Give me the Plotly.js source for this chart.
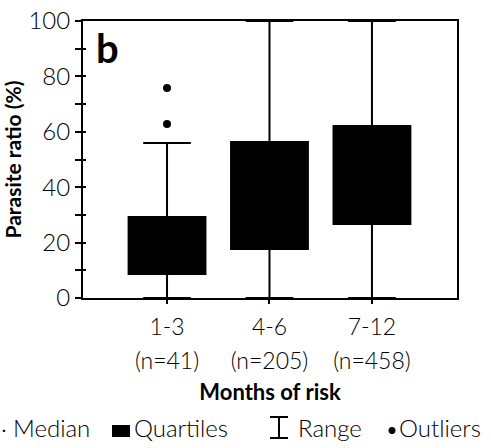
<!DOCTYPE html>
<html>
<head>
<meta charset="utf-8">
<script src="https://cdn.plot.ly/plotly-3.0.1.min.js"></script>
<style>html,body{margin:0;padding:0;background:#fff;}#chart{width:491px;height:448px;}</style>
</head>
<body>
<div id="chart"></div>
<script>
// ---- data ----
var categories = ["1-3", "4-6", "7-12"];
var tickLine1 = ["1-3", "4-6", "7-12"];
var tickLine2 = ["(n=41)", "(n=205)", "(n=458)"];
var q1 = [8.7, 17.7, 26.7];
var medians = [16, 32, 42];
var q3 = [29.2, 56.3, 62.1];
var lowerFence = [0, 0, 0];
var upperFence = [56, 100, 100];
var outlierCat = ["1-3", "1-3"];
var outlierVal = [75.8, 62.8];
var yTickVals = [0, 10, 20, 30, 40, 50, 60, 70, 80, 90, 100];
var yTickText = ["0", "", "20", "", "40", "", "60", "", "80", "", "100"];

var FONT = "Lato, 'Open Sans', sans-serif";
var W = 491, L = 83, R = 34, T = 21, B = 150, PH = 277;
var pw = W - L - R;
function px(x) { return (x - L) / pw; }
function py(y) { return (T + PH - y) / PH; }

var tickText = tickLine1.map(function (a, i) {
  return "<span style='font-size:23px'>" + a + "</span><br><span style='font-size:23px'>" + tickLine2[i] + "</span>";
});

var traces = [
  {
    type: "box",
    x: categories,
    q1: q1, median: medians, q3: q3,
    lowerfence: lowerFence, upperfence: upperFence,
    width: 0.75,
    whiskerwidth: 0.62,
    fillcolor: "#000",
    line: {color: "#000", width: 2},
    boxpoints: false,
    hoverinfo: "skip",
    showlegend: false
  },
  {
    type: "scatter",
    mode: "markers",
    x: outlierCat,
    y: outlierVal,
    marker: {color: "#000", size: 8},
    showlegend: false,
    hoverinfo: "skip"
  },
  {
    type: "scatter", x: [], y: [], yaxis: "y2", showlegend: false
  }
];

var legFont = {family: FONT, size: 24, color: "#000", weight: 300};

var layout = {
  width: 491, height: 448,
  margin: {l: L, r: R, t: T, b: B},
  paper_bgcolor: "#fff", plot_bgcolor: "#fff",
  showlegend: false,
  font: {family: FONT, color: "#000", size: 24},
  xaxis: {
    type: "category",
    categoryorder: "array", categoryarray: categories,
    range: [-0.82, 2.83],
    tickvals: categories, ticktext: tickText,
    ticks: "outside", ticklen: 4, tickwidth: 2, tickcolor: "#000",
    tickfont: {family: FONT, size: 26, color: "#000", weight: 300},
    showline: true, linecolor: "#000", linewidth: 2, mirror: true,
    showgrid: false, zeroline: false,
    title: {text: "<b>Months of risk</b>", font: {family: FONT, size: 22, color: "#000"}, standoff: 12}
  },
  yaxis: {
    range: [0, 100],
    tickvals: yTickVals, ticktext: yTickText,
    ticks: "outside", ticklen: 6, tickwidth: 2, tickcolor: "#000",
    tickfont: {family: FONT, size: 24, color: "#000", weight: 300},
    showline: true, linecolor: "#000", linewidth: 2, mirror: true,
    showgrid: false, zeroline: false,
    title: {text: "<b>Parasite ratio (%)</b>", font: {family: FONT, size: 21, color: "#000"}, standoff: 8}
  },
  yaxis2: {
    overlaying: "y", side: "left", range: [0, 100],
    tickvals: yTickVals, ticks: "inside", ticklen: 3, tickwidth: 2, tickcolor: "#000",
    showticklabels: false, showline: false, showgrid: false, zeroline: false
  },
  shapes: [
    // legend: quartile box
    {type: "rect", xref: "paper", yref: "paper", x0: px(112), x1: px(130), y0: py(437), y1: py(425), fillcolor: "#000", line: {width: 0}},
    // legend: range symbol
    {type: "line", xref: "paper", yref: "paper", x0: px(279), x1: px(279), y0: py(438), y1: py(417), line: {color: "#000", width: 2}},
    {type: "line", xref: "paper", yref: "paper", x0: px(270), x1: px(288), y0: py(417), y1: py(417), line: {color: "#000", width: 2}},
    {type: "line", xref: "paper", yref: "paper", x0: px(270), x1: px(288), y0: py(438), y1: py(438), line: {color: "#000", width: 2}}
  ],
  annotations: [
    {xref: "paper", yref: "paper", x: px(94), y: py(48), text: "<b>b</b>", showarrow: false, xanchor: "left", yanchor: "middle", font: {family: FONT, size: 40, color: "#000", weight: 900}},
    {xref: "paper", yref: "paper", x: px(4), y: py(428), text: "·", showarrow: false, xanchor: "center", yanchor: "middle", font: legFont},
    {xref: "paper", yref: "paper", x: px(11), y: py(427), text: "Median", showarrow: false, xanchor: "left", yanchor: "middle", font: legFont},
    {xref: "paper", yref: "paper", x: px(132), y: py(427), text: "Quartiles", showarrow: false, xanchor: "left", yanchor: "middle", font: legFont},
    {xref: "paper", yref: "paper", x: px(296), y: py(427), text: "Range", showarrow: false, xanchor: "left", yanchor: "middle", font: legFont},
    {xref: "paper", yref: "paper", x: px(392), y: py(428), text: "•", showarrow: false, xanchor: "center", yanchor: "middle", font: legFont},
    {xref: "paper", yref: "paper", x: px(397), y: py(427), text: "Outliers", showarrow: false, xanchor: "left", yanchor: "middle", font: legFont}
  ]
};

Plotly.newPlot("chart", traces, layout, {staticPlot: true, displayModeBar: false});
</script>
</body>
</html>
